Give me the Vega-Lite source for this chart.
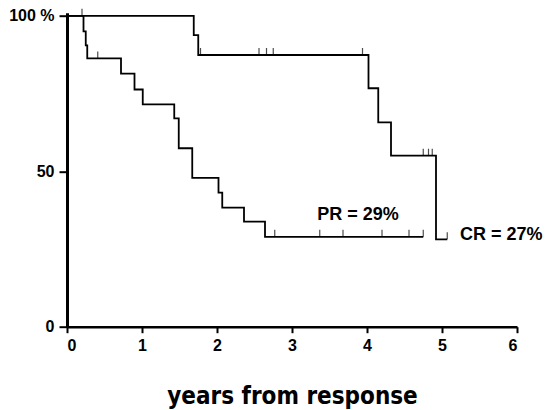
{
  "$schema": "https://vega.github.io/schema/vega-lite/v6.json",
  "width": 450,
  "height": 314,
  "autosize": {"type": "none"},
  "padding": {"left": 67, "top": 12.7, "right": 32, "bottom": 83.3},
  "background": "white",
  "config": {"view": {"stroke": null}, "font": "Liberation Sans"},
  "datasets": {
    "curves": [
      {"series": "CR", "year": 0, "pct": 100},
      {"series": "CR", "year": 1.69, "pct": 93.8},
      {"series": "CR", "year": 1.75, "pct": 87.4},
      {"series": "CR", "year": 4.02, "pct": 76.7},
      {"series": "CR", "year": 4.15, "pct": 65.7},
      {"series": "CR", "year": 4.32, "pct": 55},
      {"series": "CR", "year": 4.92, "pct": 28.1},
      {"series": "CR", "year": 5.07, "pct": 28.1},
      {"series": "PR", "year": 0, "pct": 100},
      {"series": "PR", "year": 0.22, "pct": 95},
      {"series": "PR", "year": 0.25, "pct": 90.5},
      {"series": "PR", "year": 0.27, "pct": 86.3},
      {"series": "PR", "year": 0.72, "pct": 81.4},
      {"series": "PR", "year": 0.9, "pct": 76.3},
      {"series": "PR", "year": 1.01, "pct": 71.5},
      {"series": "PR", "year": 1.43, "pct": 67},
      {"series": "PR", "year": 1.49, "pct": 57.4},
      {"series": "PR", "year": 1.67, "pct": 47.9},
      {"series": "PR", "year": 2.02, "pct": 43.1},
      {"series": "PR", "year": 2.07, "pct": 38.3},
      {"series": "PR", "year": 2.36, "pct": 33.8},
      {"series": "PR", "year": 2.64, "pct": 28.9},
      {"series": "PR", "year": 4.75, "pct": 28.9}
    ],
    "censor": [
      {"series": "CR", "year": 0.2, "pct": 100},
      {"series": "CR", "year": 1.78, "pct": 87.4},
      {"series": "CR", "year": 2.56, "pct": 87.4},
      {"series": "CR", "year": 2.66, "pct": 87.4},
      {"series": "CR", "year": 2.75, "pct": 87.4},
      {"series": "CR", "year": 3.94, "pct": 87.4},
      {"series": "CR", "year": 4.75, "pct": 55},
      {"series": "CR", "year": 4.82, "pct": 55},
      {"series": "CR", "year": 4.87, "pct": 55},
      {"series": "CR", "year": 5.07, "pct": 28.1},
      {"series": "PR", "year": 0.41, "pct": 86.3},
      {"series": "PR", "year": 2.77, "pct": 28.9},
      {"series": "PR", "year": 3.37, "pct": 28.9},
      {"series": "PR", "year": 3.68, "pct": 28.9},
      {"series": "PR", "year": 4.2, "pct": 28.9},
      {"series": "PR", "year": 4.56, "pct": 28.9},
      {"series": "PR", "year": 4.75, "pct": 28.9}
    ],
    "labels": [
      {"label": "PR = 29%", "year": 3.88, "pct": 35.9},
      {"label": "CR = 27%", "year": 5.24, "pct": 29.5}
    ]
  },
  "encoding": {
    "x": {
      "field": "year", "type": "quantitative",
      "scale": {"domain": [0, 6], "nice": false, "zero": false},
      "axis": {
        "title": "years from response",
        "values": [0, 1, 2, 3, 4, 5, 6],
        "grid": false,
        "domainColor": "black", "domainWidth": 2.5,
        "tickColor": "black", "tickWidth": 2, "tickSize": 6,
        "labelFont": "Liberation Sans", "labelFontWeight": "bold", "labelFontSize": 16, "labelColor": "black", "labelPadding": 5,
        "titleFont": "DejaVu Sans Condensed", "titleFontWeight": "bold", "titleFontSize": 24, "titleColor": "black", "titlePadding": 31
      }
    },
    "y": {
      "field": "pct", "type": "quantitative",
      "scale": {"domain": [0, 101], "nice": false},
      "axis": {
        "title": null,
        "values": [0, 50, 100],
        "labelExpr": "datum.value == 100 ? '100 %' : datum.label",
        "grid": false,
        "domainColor": "black", "domainWidth": 3,
        "tickColor": "black", "tickWidth": 2, "tickSize": 8,
        "labelFont": "Liberation Sans", "labelFontWeight": "bold", "labelFontSize": 16, "labelColor": "black", "labelPadding": 5
      }
    }
  },
  "layer": [
    {
      "data": {"name": "curves"},
      "mark": {"type": "line", "interpolate": "step-after", "color": "black", "strokeWidth": 1.8},
      "encoding": {"detail": {"field": "series"}}
    },
    {
      "data": {"name": "censor"},
      "mark": {"type": "tick", "orient": "vertical", "color": "black", "size": 7, "thickness": 1.2, "yOffset": -3.5}
    },
    {
      "data": {"name": "labels"},
      "transform": [{"filter": "datum.label == 'PR = 29%'"}],
      "mark": {"type": "text", "font": "Liberation Sans", "fontWeight": "bold", "fontSize": 18, "color": "black", "baseline": "middle", "align": "center"},
      "encoding": {"text": {"field": "label"}}
    },
    {
      "data": {"name": "labels"},
      "transform": [{"filter": "datum.label == 'CR = 27%'"}],
      "mark": {"type": "text", "font": "Liberation Sans", "fontWeight": "bold", "fontSize": 18, "color": "black", "baseline": "middle", "align": "left"},
      "encoding": {"text": {"field": "label"}}
    }
  ]
}
